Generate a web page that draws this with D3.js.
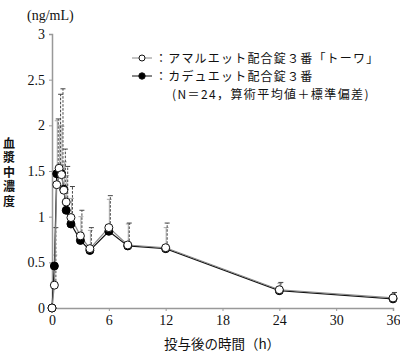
<!DOCTYPE html>
<html>
<head>
<meta charset="utf-8">
<script src="https://cdn.jsdelivr.net/npm/d3@7"></script>
<style>
  body { margin: 0; background: #fff; }
  svg text { font-family: "Liberation Serif", "Noto Sans CJK JP", serif; fill: #111; }
  .jp { font-family: "Noto Sans CJK JP", sans-serif; }
</style>
</head>
<body>
<div id="chart"></div>
<script>
// 採血時間 (h)
const hours = [0, 0.25, 0.5, 0.75, 1, 1.25, 1.5, 2, 3, 4, 6, 8, 12, 24, 36];
// アマルエット配合錠３番「トーワ」 平均値 / 平均値＋SD
const towaMean = [0, 0.25, 1.35, 1.53, 1.46, 1.29, 1.16, 0.99, 0.79, 0.65, 0.88, 0.69, 0.66, 0.2, 0.11];
const towaTop = [0, 0.88, 2.07, 2.34, 2.4, 1.74, 1.55, 1.33, 1.07, 0.88, 1.23, 0.93, 0.93, 0.28, 0.17];
// カデュエット配合錠３番 平均値 / 平均値＋SD
const caduMean = [0, 0.46, 1.47, 1.5, 1.47, 1.3, 1.07, 0.92, 0.74, 0.63, 0.84, 0.68, 0.65, 0.19, 0.1];
const caduTop = [0, 0.58, 2.05, 2.0, 1.99, 1.6, 1.45, 1.2, 1.0, 0.85, 1.19, 0.92, 0.88, 0.27, 0.16];

const xTicks = [0, 6, 12, 18, 24, 30, 36];
const yTicks = [0, 0.5, 1, 1.5, 2, 2.5, 3];
const legendLabels = ["：アマルエット配合錠３番「トーワ」", "：カデュエット配合錠３番"];
const legendNote = "(N＝24，算術平均値＋標準偏差)";

const width = 400, height = 354;
const svg = d3.select("#chart").append("svg")
  .attr("width", width).attr("height", height);

const x = d3.scaleLinear().domain([0, 36]).range([52, 393]);
const y = d3.scaleLinear().domain([0, 3]).range([308, 34]);

// 軸
const xAxis = svg.append("g")
  .attr("transform", "translate(0," + y(0) + ")")
  .call(d3.axisBottom(x).tickValues(xTicks).tickSize(3).tickPadding(4).tickFormat(d3.format("d")));
xAxis.select(".domain").attr("stroke", "#999").attr("stroke-width", 1.5);
xAxis.selectAll(".tick line").attr("stroke", "#999");
xAxis.selectAll("text").attr("font-size", 14).attr("fill", "#111")
  .style("font-family", "Liberation Serif");

const yAxis = svg.append("g")
  .attr("transform", "translate(" + x(0) + ",0)")
  .call(d3.axisLeft(y).tickValues(yTicks).tickSize(3).tickPadding(4).tickFormat(d => d));
yAxis.select(".domain").attr("stroke", "#999").attr("stroke-width", 1.5);
yAxis.selectAll(".tick line").attr("stroke", "#999");
yAxis.selectAll("text").attr("font-size", 14).attr("fill", "#111")
  .style("font-family", "Liberation Serif");

// 単位・軸ラベル
svg.append("text").attr("x", 27).attr("y", 20).attr("font-size", 14)
  .text("(ng/mL)");

// 縦書きの軸ラベル
svg.append("text")
  .attr("class", "jp")
  .attr("x", 9)
  .attr("y", 137)
  .attr("font-size", 12)
  .attr("font-weight", "bold")
  .attr("letter-spacing", 2.6)
  .style("writing-mode", "vertical-rl")
  .text("血漿中濃度");

svg.append("text").attr("class", "jp")
  .attr("x", 222).attr("y", 349).attr("text-anchor", "middle")
  .attr("font-size", 13.5)
  .text("投与後の時間（h）");

// エラーバー
function errorBars(mean, top, dx, color, dash, cls) {
  const g = svg.append("g").attr("class", cls);
  const rows = hours.map((h, i) => ({ h: h, m: mean[i], t: top[i] }))
    .filter(d => d.t > d.m);
  g.selectAll("line.v").data(rows).enter().append("line")
    .attr("x1", d => x(d.h) + dx).attr("x2", d => x(d.h) + dx)
    .attr("y1", d => y(d.m)).attr("y2", d => y(d.t))
    .attr("stroke", color).attr("stroke-width", 1)
    .attr("stroke-dasharray", dash);
  g.selectAll("line.c").data(rows).enter().append("line")
    .attr("x1", d => x(d.h) + dx - 2.5).attr("x2", d => x(d.h) + dx + 2.5)
    .attr("y1", d => y(d.t)).attr("y2", d => y(d.t))
    .attr("stroke", color).attr("stroke-width", 1);
}
errorBars(caduMean, caduTop, 0.5, "#aaa", null, "err-cadu");
errorBars(towaMean, towaTop, 1.5, "#444", "2.5,1.5", "err-towa");

// 折れ線
const line = d3.line().x(d => x(d[0])).y(d => y(d[1]));
const caduPts = hours.map((h, i) => [h, caduMean[i]]);
const towaPts = hours.map((h, i) => [h, towaMean[i]]);

svg.append("path").datum(caduPts).attr("d", line)
  .attr("fill", "none").attr("stroke", "#111").attr("stroke-width", 1.2);
svg.append("path").datum(towaPts).attr("d", line)
  .attr("fill", "none").attr("stroke", "#888").attr("stroke-width", 1.2);

svg.append("g").selectAll("circle").data(caduPts).enter().append("circle")
  .attr("cx", d => x(d[0])).attr("cy", d => y(d[1])).attr("r", 4)
  .attr("fill", "#000").attr("stroke", "#000");
svg.append("g").selectAll("circle").data(towaPts).enter().append("circle")
  .attr("cx", d => x(d[0])).attr("cy", d => y(d[1])).attr("r", 4)
  .attr("fill", "#fff").attr("stroke", "#111").attr("stroke-width", 1);

// 凡例
const legend = svg.append("g");
[0, 1].forEach(i => {
  const ly = 58 + i * 18;
  legend.append("line").attr("x1", 132).attr("x2", 152).attr("y1", ly).attr("y2", ly)
    .attr("stroke", i === 0 ? "#888" : "#111").attr("stroke-width", 1);
  legend.append("circle").attr("cx", 142).attr("cy", ly).attr("r", i === 0 ? 3 : 3.2)
    .attr("fill", i === 0 ? "#fff" : "#000").attr("stroke", "#111");
  legend.append("text").attr("class", "jp")
    .attr("x", 155).attr("y", ly + 4.5).attr("font-size", 12)
    .attr("letter-spacing", 1.2)
    .text(legendLabels[i]);
});
legend.append("text").attr("class", "jp")
  .attr("x", 172).attr("y", 98.5).attr("font-size", 12)
  .attr("letter-spacing", 1.4)
  .text(legendNote);
</script>
</body>
</html>
